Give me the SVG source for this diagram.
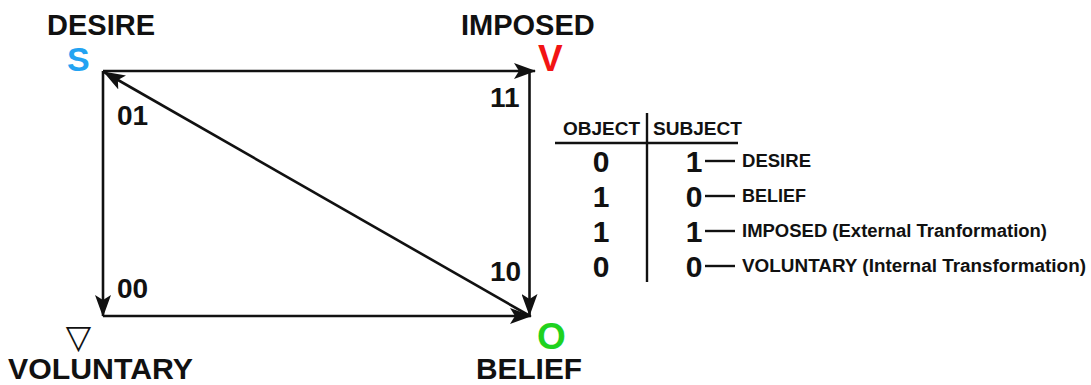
<svg xmlns="http://www.w3.org/2000/svg" width="1091" height="385" viewBox="0 0 1091 385">
<style>
.t{font-family:"Liberation Sans",Arial,sans-serif;font-weight:bold;fill:#111}
.big{font-size:29px}
.lbl{font-size:29px}
.num{font-size:28px}
.hd{font-size:18px}
.dg{font-size:30px;text-anchor:middle}
.edge{stroke:#111;stroke-width:2.6;fill:none}
.rule{stroke:#111;stroke-width:2.4;fill:none}
</style>
<defs>
<marker id="ah" viewBox="0 0 22 16" refX="21" refY="8" markerWidth="22" markerHeight="16" markerUnits="userSpaceOnUse" orient="auto">
<path d="M0,0 L22,8 L0,16 L5,8 z" fill="#111"/>
</marker>
</defs>
<rect width="1091" height="385" fill="#fff"/>

<g id="node-desire">
<text class="t big" x="47" y="35">DESIRE</text>
<text class="t" x="67" y="71" style="font-size:34px;fill:#22a3f2">S</text>
</g>
<g id="node-imposed">
<text class="t big" x="461" y="35">IMPOSED</text>
<text class="t" x="538" y="71" style="font-size:37px;fill:#f21414">V</text>
</g>
<g id="node-voluntary">
<text x="78.5" y="348" style="font-family:'DejaVu Sans',sans-serif;font-size:33px;text-anchor:middle;fill:#111">▽</text>
<text class="t lbl" x="8" y="379" textLength="185" lengthAdjust="spacingAndGlyphs">VOLUNTARY</text>
</g>
<g id="node-belief">
<text class="t" x="537" y="349" style="font-size:37px;fill:#1fd21f">O</text>
<text class="t lbl" x="476" y="379" textLength="106" lengthAdjust="spacingAndGlyphs">BELIEF</text>
</g>

<g id="connectors">
<line class="edge" x1="103" y1="71" x2="535" y2="71" marker-end="url(#ah)"/>
<line class="edge" x1="529.5" y1="71" x2="529.5" y2="315" marker-end="url(#ah)"/>
<line class="edge" x1="103" y1="71" x2="103" y2="316" marker-end="url(#ah)"/>
<line class="edge" x1="103" y1="316" x2="531" y2="316" marker-end="url(#ah)"/>
<line class="edge" x1="530" y1="316" x2="104" y2="72" marker-end="url(#ah)"/>
</g>

<g id="edge-labels">
<text class="t num" x="117" y="125">01</text>
<text class="t num" x="490" y="107">11</text>
<text class="t num" x="490" y="281">10</text>
<text class="t num" x="117" y="298">00</text>
</g>

<g id="table">
<text class="t hd" x="563" y="135" textLength="77" lengthAdjust="spacingAndGlyphs">OBJECT</text>
<text class="t hd" x="653" y="135" textLength="89" lengthAdjust="spacingAndGlyphs">SUBJECT</text>
<line class="rule" x1="647" y1="113" x2="647" y2="282"/>
<line class="rule" x1="555" y1="143" x2="738" y2="143"/>
<text class="t dg" x="601" y="172">0</text>
<text class="t dg" x="601" y="207">1</text>
<text class="t dg" x="601" y="242">1</text>
<text class="t dg" x="601" y="277">0</text>
<text class="t dg" x="694" y="172">1</text>
<text class="t dg" x="694" y="207">0</text>
<text class="t dg" x="694" y="242">1</text>
<text class="t dg" x="694" y="277">0</text>
<line class="rule" x1="705" y1="161" x2="735" y2="161"/>
<line class="rule" x1="705" y1="196" x2="735" y2="196"/>
<line class="rule" x1="705" y1="231" x2="735" y2="231"/>
<line class="rule" x1="705" y1="266" x2="735" y2="266"/>
<text class="t hd" x="742" y="167" textLength="69" lengthAdjust="spacingAndGlyphs">DESIRE</text>
<text class="t hd" x="742" y="202">BELIEF</text>
<text class="t hd" x="742" y="237" textLength="305" lengthAdjust="spacingAndGlyphs">IMPOSED (External Tranformation)</text>
<text class="t hd" x="742" y="272" textLength="344" lengthAdjust="spacingAndGlyphs">VOLUNTARY (Internal Transformation)</text>
</g>
</svg>
